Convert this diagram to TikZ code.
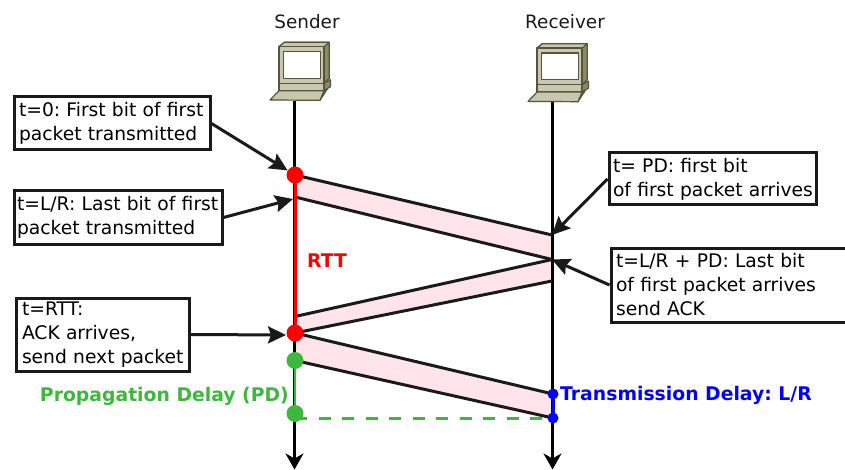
\documentclass[tikz,border=0pt]{standalone}
\usepackage{fontspec}
\setmainfont{DejaVu Sans}
\usetikzlibrary{arrows.meta}
\definecolor{ink}{HTML}{1A1A1A}
\definecolor{bandfill}{HTML}{FFE4EA}
\definecolor{pdgreen}{HTML}{3DB83D}
\definecolor{pclight}{HTML}{C8C8AE}
\definecolor{pcdark}{HTML}{8A8A68}
\definecolor{pcline}{HTML}{55553F}
\tikzset{
  x=1pt,y=-1pt,
  lifeline/.style={line width=3pt,black,-{Stealth[length=16pt,width=18pt,inset=5pt]}},
  bandline/.style={line width=3pt,ink},
  band/.style={fill=bandfill,draw=none},
  note/.style={draw=ink,line width=3pt,fill=white,rectangle,inner sep=0pt,align=left,
    font=\fontsize{18.7}{24}\selectfont\frenchspacing},
  pointer/.style={line width=3pt,ink,-{Stealth[length=18pt,width=17pt,inset=3pt]}},
  dot/.style={circle,inner sep=0pt,minimum size=#1},
  pctext/.style={font=\fontsize{18.4}{22}\selectfont,text=ink},
  blabel/.style={font=\fontsize{18.8}{22}\bfseries\selectfont\frenchspacing},
  pcpart/.style={draw=pcline,line width=1.2pt,line join=round},
  pics/computer/.style={code={
    \fill[pcdark,pcpart] (-15.5,-54) -- (-10.2,-58.4) -- (34.8,-58.4) -- (34.8,-22.4) -- (29.5,-17.4) -- (29.5,-54) -- cycle;
    \fill[pclight,pcpart] (-15.5,-54) -- (-10.2,-58.4) -- (34.8,-58.4) -- (29.5,-54) -- cycle;
    \fill[pclight,pcpart] (-15.5,-54) rectangle (29.5,-17.4);
    \fill[white,pcpart] (-11.2,-49) rectangle (26.2,-22.4);
    \fill[pcdark,pcpart] (29.5,-17.4) -- (36,-21) -- (36,-14) -- (29.5,-10) -- cycle;
    \fill[pclight,pcpart] (-15.5,-17.4) rectangle (29.5,-10);
    \fill[pcdark,pcpart] (29.5,-10) -- (33,-12) -- (25.5,-0.4) -- cycle;
    \fill[pclight,pcpart] (-15.5,-10) -- (29.5,-10) -- (25.5,-0.4) -- (-24.5,-0.7) -- cycle;
  }}
}
\begin{document}
\begin{tikzpicture}
\useasboundingbox[fill=white] (0,0) rectangle (845,470);

% named points
\coordinate (send top) at (294.5,101);
\coordinate (send end) at (294.5,469.5);
\coordinate (recv top) at (552.5,102);
\coordinate (recv end) at (552.5,469.5);
\coordinate (a1) at (295,175);
\coordinate (a2) at (295,197);
\coordinate (a3) at (552,235);
\coordinate (a4) at (552,259.5);
\coordinate (b1) at (295,316.5);
\coordinate (b2) at (295,333);
\coordinate (b3) at (552,281);
\coordinate (c1) at (295,333);
\coordinate (c2) at (295,360.5);
\coordinate (c3) at (553,394);
\coordinate (c4) at (553,418);
\coordinate (g2) at (295,413.5);
\coordinate (g3) at (295,418);
\coordinate (arr2) at (293,199);
\coordinate (arr3) at (286,335);

% bands
\fill[band] (a1) -- (a3) -- (a4) -- (a2) -- cycle;
\fill[band] (b1) -- (a4) -- (b3) -- (b2) -- cycle;
\fill[band] (c1) -- (c3) -- (c4) -- (c2) -- cycle;

% lifelines
\draw[lifeline] (send top) -- (send end);
\draw[lifeline] (recv top) -- (recv end);

% band edges
\draw[bandline] (a1) -- (a3);
\draw[bandline] (a2) -- (a4);
\draw[bandline] (b1) -- (a4);
\draw[bandline] (b2) -- (b3);
\draw[bandline] (c1) -- (c3);
\draw[bandline] (c2) -- (c4);

% computers
\pic at (294.5,100.7) {computer};
\pic at (552.5,102.1) {computer};
\node[pctext] (sender) at (307,22) {Sender};
\node[pctext] (receiver) at (565,22) {Receiver};

% coloured spans
\draw[red,line width=3pt] (a1) -- (b2);
\draw[pdgreen,line width=2.5pt] (c2) -- (g2);
\draw[pdgreen,line width=3pt,dash pattern=on 12pt off 11.5pt] (g3) -- (c4);
\draw[blue,line width=3pt] (c3) -- (c4);

% dots
\node[dot=17pt,fill=red] (d1) at (a1) {};
\node[dot=17pt,fill=red] (d2) at (b2) {};
\node[dot=17pt,fill=pdgreen] (d3) at (c2) {};
\node[dot=17pt,fill=pdgreen] (d4) at (g2) {};
\node[dot=11pt,fill=blue] (d5) at (c3) {};
\node[dot=11pt,fill=blue] (d6) at (c4) {};

% notes
\node[note,minimum width=196pt,minimum height=53pt,text width=186pt] (n1) at (112,123.5)
  {\mbox{t=0: First bit of first}\\\mbox{packet transmitted}};
\node[note,minimum width=208pt,minimum height=54pt,text width=202pt] (n2) at (118,217.5)
  {\mbox{t=L/R: Last bit of first}\\\mbox{packet transmitted}};
\node[note,minimum width=173pt,minimum height=73pt,text width=161pt] (n3) at (102.5,334.5)
  {t=RTT:\\\mbox{ACK arrives,}\\\mbox{send next packet}};
\node[note,minimum width=207pt,minimum height=52pt,text width=199pt] (n4) at (712.5,179)
  {\mbox{t= PD: first bit}\\\mbox{of first packet arrives}};
\node[note,minimum width=236pt,minimum height=74pt,text width=226pt] (n5) at (729,285)
  {\mbox{t=L/R + PD: Last bit}\\\mbox{of first packet arrives}\\\mbox{send ACK}};

% pointers
\draw[pointer] (n1.east) -- (d1);
\draw[pointer] (n2.east) -- (arr2);
\draw[pointer] (n3.east) -- (arr3);
\draw[pointer] (n4.west) -- (a3);
\draw[pointer] (n5.west) -- (a4);

% labels
\node[blabel,text=red,anchor=west,inner sep=0pt] (rtt) at (307,261) {RTT};
\node[blabel,text=pdgreen,anchor=east,inner sep=0pt] (pd) at (289,396.5) {Propagation Delay (PD)};
\node[blabel,text=blue,anchor=west,inner sep=0pt] (td) at (560,395.5) {Transmission Delay: L/R};
\end{tikzpicture}
\end{document}
